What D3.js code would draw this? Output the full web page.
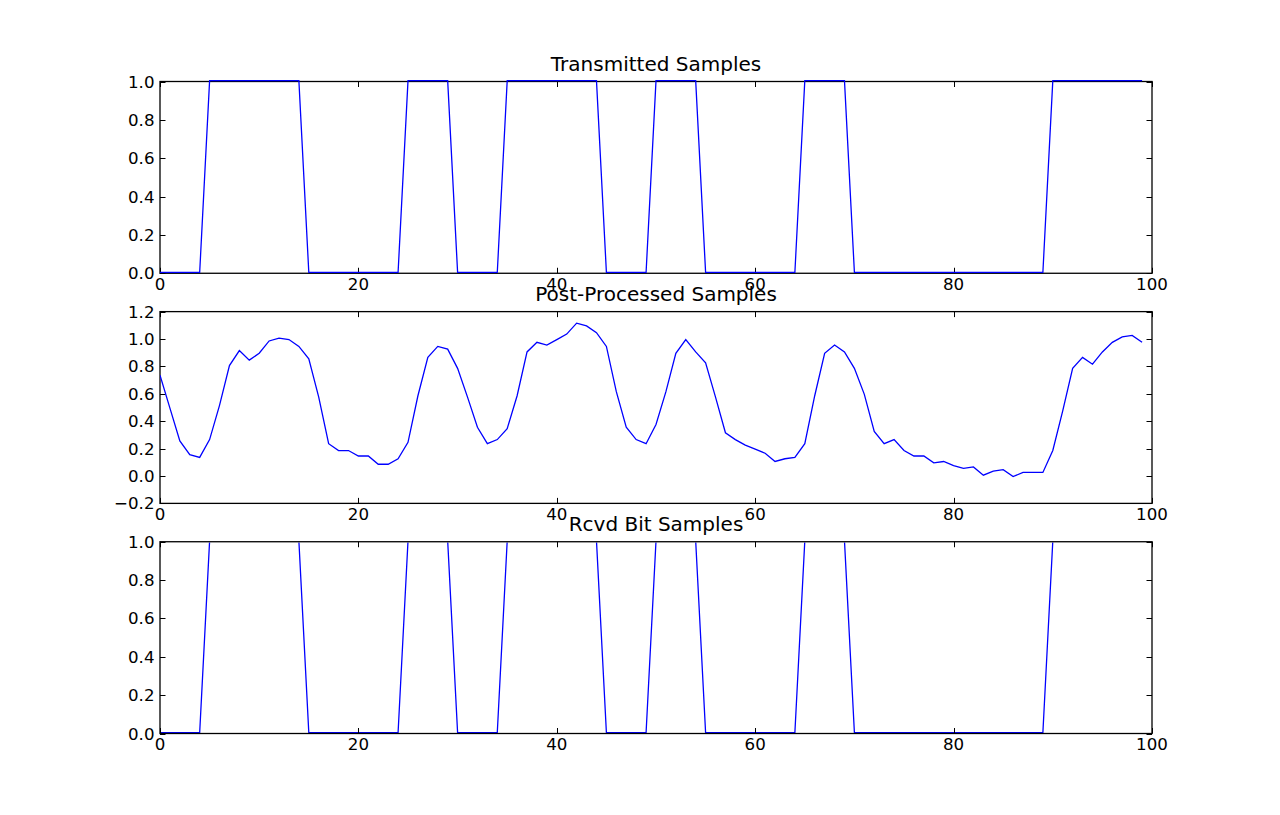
<!DOCTYPE html>
<html>
<head>
<meta charset="utf-8">
<title>Samples</title>
<script src="https://cdn.jsdelivr.net/npm/d3@7"></script>
<style>
  body { margin: 0; background: #fff; }
  svg { display: block; font-family: "DejaVu Sans", sans-serif; }
</style>
</head>
<body>
<svg id="fig" width="1280" height="815"></svg>
<script>
// sample values
var transmitted = [
  0,0,0,0,0, 1,1,1,1,1, 1,1,1,1,1, 0,0,0,0,0,
  0,0,0,0,0, 1,1,1,1,1, 0,0,0,0,0, 1,1,1,1,1,
  1,1,1,1,1, 0,0,0,0,0, 1,1,1,1,1, 0,0,0,0,0,
  0,0,0,0,0, 1,1,1,1,1, 0,0,0,0,0, 0,0,0,0,0,
  0,0,0,0,0, 0,0,0,0,0, 1,1,1,1,1, 1,1,1,1,1
];
var processed = [
  0.73,0.49,0.25,0.15,0.13,0.26,0.51,0.80,0.91,0.84,
  0.89,0.98,1.00,0.99,0.94,0.85,0.57,0.23,0.18,0.18,
  0.14,0.14,0.08,0.08,0.12,0.24,0.58,0.86,0.94,0.92,
  0.78,0.57,0.35,0.23,0.26,0.34,0.58,0.90,0.97,0.95,
  0.99,1.03,1.11,1.09,1.04,0.94,0.61,0.35,0.26,0.23,
  0.37,0.61,0.89,0.99,0.90,0.82,0.57,0.31,0.26,0.22,
  0.19,0.16,0.10,0.12,0.13,0.23,0.58,0.89,0.95,0.90,
  0.78,0.59,0.32,0.23,0.26,0.18,0.14,0.14,0.09,0.10,
  0.07,0.05,0.06,0.00,0.03,0.04,-0.01,0.02,0.02,0.02,
  0.18,0.47,0.78,0.86,0.81,0.90,0.97,1.01,1.02,0.97
];
var received = [
  0,0,0,0,0, 1,1,1,1,1, 1,1,1,1,1, 0,0,0,0,0,
  0,0,0,0,0, 1,1,1,1,1, 0,0,0,0,0, 1,1,1,1,1,
  1,1,1,1,1, 0,0,0,0,0, 1,1,1,1,1, 0,0,0,0,0,
  0,0,0,0,0, 1,1,1,1,1, 0,0,0,0,0, 0,0,0,0,0,
  0,0,0,0,0, 0,0,0,0,0, 1,1,1,1,1, 1,1,1,1,1
];
var titles = ["Transmitted Samples", "Post-Processed Samples", "Rcvd Bit Samples"];
var xTicks = [0, 20, 40, 60, 80, 100];
var yTicksBits = [0, 0.2, 0.4, 0.6, 0.8, 1.0];
var yTicksProc = [-0.2, 0, 0.2, 0.4, 0.6, 0.8, 1.0, 1.2];

/**figure layout like matplotlib defaults (100 dpi)*/
var W = 1280, H = 815,
    axLeft = W * 0.125, axRight = W * 0.9,
    axTop = H * 0.1, axBottom = H * 0.9,
    axH = (axBottom - axTop) / 3.4, gap = axH * 0.2,
    tickLen = 5.5, pad = 5.5, fs = 16.67;

var svg = d3.select("#fig");

var panels = [
  { data: transmitted, yDomain: [0, 1], yTicks: yTicksBits, lineOver: true },
  { data: processed, yDomain: [-0.2, 1.2], yTicks: yTicksProc, lineOver: true },
  { data: received, yDomain: [0, 1], yTicks: yTicksBits, lineOver: false }
];

function fmt(d) {
  return d3.format(".1f")(d).replace("-", "\u2212");
}

panels.forEach(function(p, k) {
  var y0 = axTop + k * (axH + gap), y1 = y0 + axH;
  var x = d3.scaleLinear().domain([0, 100]).range([axLeft, axRight]);
  var y = d3.scaleLinear().domain(p.yDomain).range([y1, y0]);
  var g = svg.append("g");

  var clipId = "clip" + k;
  var clipTop = p.lineOver ? y0 - 2 : y0 + 0.7;
  g.append("clipPath").attr("id", clipId)
   .append("rect").attr("x", axLeft).attr("y", clipTop)
   .attr("width", axRight - axLeft).attr("height", y1 + 2 - clipTop);

  var line = d3.line().x(function(d, i) { return x(i); }).y(function(d) { return y(d); });

  function drawLine() {
    g.append("g").attr("clip-path", "url(#" + clipId + ")")
     .append("path").datum(p.data)
     .attr("d", line)
     .attr("transform", "translate(0,-0.8)")
     .attr("fill", "none")
     .attr("stroke", "#0000ff")
     .attr("stroke-width", 1.3);
  }

  if (!p.lineOver) drawLine();

  /**ticks inside, on all four sides*/
  var ticks = g.append("g").attr("stroke", "#000").attr("stroke-width", 1);
  xTicks.forEach(function(t) {
    var xx = Math.round(x(t)) + 0.5;
    ticks.append("line").attr("x1", xx).attr("x2", xx).attr("y1", y1).attr("y2", y1 - tickLen);
    ticks.append("line").attr("x1", xx).attr("x2", xx).attr("y1", y0).attr("y2", y0 + tickLen);
  });
  p.yTicks.forEach(function(t) {
    var yy = Math.round(y(t)) + 0.5;
    ticks.append("line").attr("x1", axLeft).attr("x2", axLeft + tickLen).attr("y1", yy).attr("y2", yy);
    ticks.append("line").attr("x1", axRight).attr("x2", axRight - tickLen).attr("y1", yy).attr("y2", yy);
  });

  g.append("rect")
   .attr("x", axLeft).attr("y", y0)
   .attr("width", axRight - axLeft).attr("height", axH)
   .attr("fill", "none").attr("stroke", "#000").attr("stroke-width", 1.3);

  if (p.lineOver) drawLine();

  /**tick labels*/
  g.selectAll(".xl").data(xTicks).enter().append("text")
   .attr("x", function(d) { return x(d); })
   .attr("y", y1 + 16.5)
   .attr("text-anchor", "middle")
   .attr("font-size", fs)
   .text(function(d) { return d; });

  g.selectAll(".yl").data(p.yTicks).enter().append("text")
   .attr("x", axLeft - pad)
   .attr("y", function(d) { return y(d) + 6; })
   .attr("text-anchor", "end")
   .attr("font-size", fs)
   .text(fmt);

  g.append("text")
   .attr("x", (axLeft + axRight) / 2)
   .attr("y", y0 - 10.5)
   .attr("text-anchor", "middle")
   .attr("font-size", 20)
   .text(titles[k]);
});
</script>
</body>
</html>
